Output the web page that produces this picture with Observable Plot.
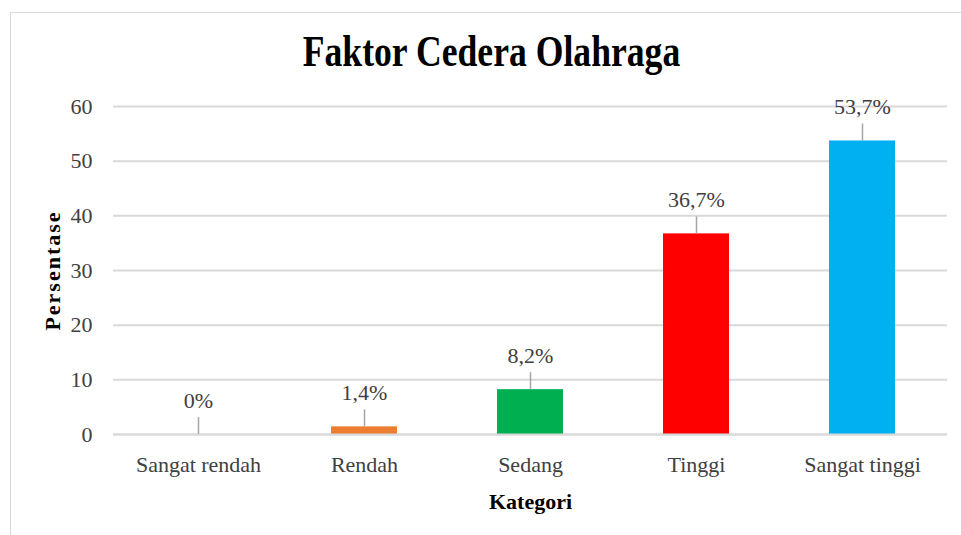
<!DOCTYPE html>
<html>
<head>
<meta charset="utf-8">
<script src="https://cdn.jsdelivr.net/npm/d3@7"></script>
<script src="https://cdn.jsdelivr.net/npm/@observablehq/plot@0.6"></script>
<style>
  body { margin: 0; background: #fff; }
  #wrap { position: relative; width: 961px; height: 535px; overflow: hidden; background: #fff; }
  #frame { position: absolute; left: 10px; top: 12px; width: 1000px; height: 600px; border-left: 1.5px solid #d9d9d9; border-top: 1.5px solid #d9d9d9; }
  #title { position: absolute; left: 0; top: 30px; width: 983px; text-align: center; font-family: "Liberation Serif", "Times New Roman", serif; font-weight: bold; font-size: 44px; color: #000; line-height: 1; transform: scaleX(0.81); transform-origin: 491.5px 0; white-space: nowrap; }
  #chart { position: absolute; left: 0; top: 90px; }
  #chart svg, #chart svg text { font-family: "Liberation Serif", "Times New Roman", serif !important; }
  g[aria-label="y-axis label"] text { font-weight: bold; fill: #000; font-size: 22px; letter-spacing: 2px; }
  g[aria-label="x-axis label"] text { font-weight: bold; fill: #000; font-size: 22px; }
</style>
</head>
<body>
<div id="wrap">
  <div id="frame"></div>
  <div id="title">Faktor Cedera Olahraga</div>
  <div id="chart"></div>
</div>
<script>
const categories = ["Sangat rendah", "Rendah", "Sedang", "Tinggi", "Sangat tinggi"];
const values = [0, 1.4, 8.2, 36.7, 53.7];
const labels = ["0%", "1,4%", "8,2%", "36,7%", "53,7%"];
const colors = ["#a5a5a5", "#ed7d31", "#00b050", "#ff0000", "#00b0f0"];
const yTicks = [0, 10, 20, 30, 40, 50, 60];

const data = categories.map((c, i) => ({cat: c, value: values[i], label: labels[i], color: colors[i]}));

const chart = Plot.plot({
  width: 961,
  height: 445,
  marginTop: 16,
  marginBottom: 101,
  marginLeft: 113,
  marginRight: 14,
  style: {fontSize: "22px", color: "#404040", background: "transparent"},
  x: {domain: categories, paddingInner: 0.6, paddingOuter: 0.3, label: null},
  y: {domain: [0, 60], label: null},
  marks: [
    Plot.gridY(yTicks, {stroke: "#d9d9d9", strokeOpacity: 1, strokeWidth: 2}),
    Plot.axisY(yTicks, {tickSize: 0, tickPadding: 21, fontSize: 22, fill: "#404040",
      label: "Persentase", labelAnchor: "center", labelArrow: "none", labelOffset: 69}),
    Plot.axisX({tickSize: 0, tickPadding: 22, fontSize: 22, fill: "#404040",
      label: "Kategori", labelAnchor: "center", labelArrow: "none", labelOffset: 74}),
    Plot.barY(data, {x: "cat", y: "value", fill: "color"}),
    Plot.ruleY([0], {stroke: "#d9d9d9", strokeWidth: 2}),
    Plot.ruleX(data, {x: "cat", y1: "value", y2: "value", insetBottom: 17, stroke: "#a6a6a6", strokeWidth: 1.5}),
    Plot.text(data, {x: "cat", y: "value", text: "label", dy: -34, fontSize: 22, fill: "#404040"})
  ]
});
document.getElementById("chart").appendChild(chart);
</script>
</body>
</html>
